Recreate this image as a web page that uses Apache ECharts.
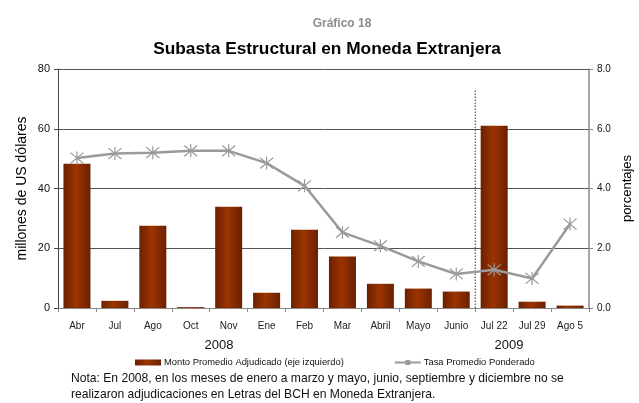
<!DOCTYPE html>
<html><head><meta charset="utf-8">
<script src="https://cdn.jsdelivr.net/npm/echarts@6/dist/echarts.min.js"></script>
<style>html,body{margin:0;padding:0;background:#fff}#c{width:639px;height:403px}</style>
</head><body><div id="c"></div>
<script>
const categories = ["Abr","Jul","Ago","Oct","Nov","Ene","Feb","Mar","Abril","Mayo","Junio","Jul 22","Jul 29","Ago 5"];
const montoAdjudicado = [48.3, 2.4, 27.5, 0.3, 33.9, 5.1, 26.2, 17.2, 8.1, 6.5, 5.5, 61.0, 2.1, 0.8];
const tasaPonderada = [5.02, 5.17, 5.2, 5.26, 5.26, 4.85, 4.09, 2.53, 2.08, 1.56, 1.14, 1.28, 0.99, 2.81];
const leftTicks = [0, 20, 40, 60, 80];
const rightTicks = [0, 2, 4, 6, 8];
const yearSplit = [[11, 0], [11, 72.8]];

const FONT = '"Liberation Sans", Arial, sans-serif';
const chart = echarts.init(document.getElementById('c'), null, {renderer: 'canvas'});
const starPath = 'path://M0,0L10,10M10,0L0,10M5,-1L5,11';
chart.setOption({
  animation: false,
  textStyle: {fontFamily: FONT},
  title: [
    {text: 'Gráfico 18', left: 337, textAlign: 'center', top: 13, textStyle: {fontSize: 12, fontWeight: 'bold', color: '#8c8c8c', fontFamily: FONT}},
    {text: 'Subasta Estructural en Moneda Extranjera', left: 322, textAlign: 'center', top: 36, textStyle: {fontSize: 17.3, fontWeight: 'bold', color: '#000', fontFamily: FONT}}
  ],
  grid: {left: 58, right: 50, top: 69, bottom: 95, containLabel: false, outerBoundsMode: 'none'},
  legend: {
    left: 135, top: 358, padding: 0, itemGap: 50, itemWidth: 26, itemHeight: 6,
    textStyle: {fontSize: 9.4, color: '#111', fontFamily: FONT, padding: [0,0,0,-2]},
    data: [
      {name: 'Monto Promedio Adjudicado (eje izquierdo)', icon: 'rect'},
      {name: 'Tasa Promedio Ponderado'}
    ]
  },
  xAxis: [
    {type: 'category', data: categories, boundaryGap: true,
     axisLine: {lineStyle: {color: '#888', width: 1}},
     axisTick: {show: true, length: 4, lineStyle: {color: '#888'}},
     axisLabel: {fontSize: 10, color: '#222', margin: 13, fontFamily: FONT}},
    {type: 'value', min: 0, max: 14, show: false}
  ],
  yAxis: [
    {type: 'value', min: 0, max: 80, interval: 20, position: 'left',
     name: 'millones de US dólares', nameLocation: 'middle', nameGap: 29, nameMoveOverlap: false,
     nameTextStyle: {fontSize: 14, color: '#000', fontFamily: FONT},
     axisLine: {show: true, lineStyle: {color: '#444'}},
     axisTick: {show: true, length: 4, lineStyle: {color: '#444'}},
     axisLabel: {fontSize: 11, color: '#111', margin: 8, fontFamily: FONT},
     splitLine: {show: true, lineStyle: {color: '#555', width: 1}}},
    {type: 'value', min: 0, max: 8, interval: 2, position: 'right',
     name: 'porcentajes', nameLocation: 'middle', nameGap: 32, nameRotate: 90, nameMoveOverlap: false,
     nameTextStyle: {fontSize: 13, color: '#000', fontFamily: FONT},
     axisLine: {show: true, lineStyle: {color: '#888', width: 1.5}},
     axisTick: {show: true, length: 4, lineStyle: {color: '#888'}},
     axisLabel: {fontSize: 10, color: '#111', margin: 8, fontFamily: FONT, formatter: v => v.toFixed(1)},
     splitLine: {show: false}}
  ],
  graphic: [
    {type: 'text', x: 219, y: 345, style: {text: '2008', fontSize: 13, fill: '#111', fontFamily: FONT, align: 'center', verticalAlign: 'middle'}},
    {type: 'text', x: 509, y: 345, style: {text: '2009', fontSize: 13, fill: '#111', fontFamily: FONT, align: 'center', verticalAlign: 'middle'}},
    {type: 'text', x: 71, y: 371, style: {text: 'Nota: En 2008, en los meses de enero a marzo y mayo, junio, septiembre y diciembre no se\nrealizaron adjudicaciones en Letras del BCH en Moneda Extranjera.', fontSize: 12.1, lineHeight: 16, fill: '#111', fontFamily: FONT}}
  ],
  series: [
    {name: 'Monto Promedio Adjudicado (eje izquierdo)', type: 'bar', data: montoAdjudicado, barWidth: 27,
     itemStyle: {color: new echarts.graphic.LinearGradient(0, 0, 1, 0, [
       {offset: 0, color: '#6a2000'}, {offset: 0.45, color: '#9c3400'}, {offset: 1, color: '#6a2000'}])}},
    {name: 'Tasa Promedio Ponderado', type: 'line', yAxisIndex: 1, data: tasaPonderada,
     symbol: starPath, symbolSize: 13, z: 5,
     lineStyle: {color: '#9a9a9a', width: 2.5},
     itemStyle: {color: 'rgba(0,0,0,0)', borderColor: '#9a9a9a', borderWidth: 1.2}},
    {name: 'split', type: 'line', xAxisIndex: 1, yAxisIndex: 0, data: yearSplit,
     symbol: 'none', silent: true, z: 1,
     lineStyle: {color: '#333', width: 1, type: [1.5, 1.5]}}
  ]
});
</script></body></html>
